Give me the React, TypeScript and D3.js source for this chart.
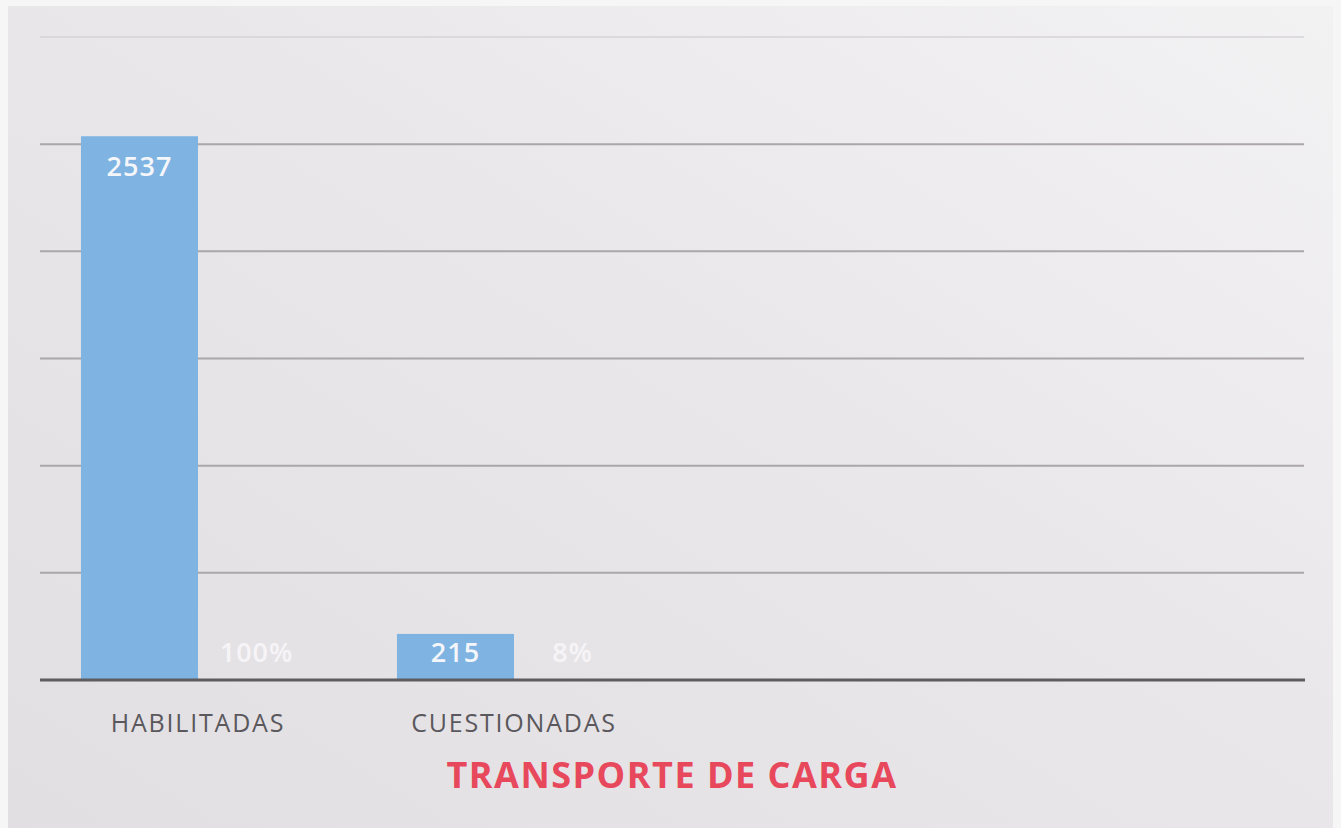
import React from "react";
import * as d3 from "d3";

const categories = ["HABILITADAS", "CUESTIONADAS"];
const slotCount = 4;
const counts = [2537, 215];
const percents = ["100%", "8%"];
const gridTicks = [0, 500, 1000, 1500, 2000, 2500, 3000];
const title = "TRANSPORTE DE CARGA";

const W = 1341;
const H = 828;

export default function App() {
  const left = 40;
  const right = 1304;
  const top = 37;
  const bottom = 680;
  const x = d3.scaleBand<number>().domain(d3.range(slotCount)).range([left, right]).paddingInner(0).paddingOuter(0);
  const inner = d3.scaleBand<number>().domain([0, 1]).range([0, x.bandwidth()]).paddingOuter(0.35).paddingInner(0);
  const y = d3.scaleLinear().domain([0, 3000]).range([bottom, top]);
  const font = "'Open Sans', sans-serif";
  return (
    <svg width={W} height={H} style={{ position: "absolute", left: 0, top: 0 }}>
      <defs>
        <linearGradient id="paper" x1="0" y1="1" x2="1" y2="0">
          <stop offset="0" stopColor="#e2dfe3" />
          <stop offset="0.55" stopColor="#e9e7ea" />
          <stop offset="1" stopColor="#f3f2f3" />
        </linearGradient>
      </defs>
      <rect x={0} y={0} width={W} height={H} fill="#f7f6f7" />
      <rect x={8} y={6} width={1325} height={H - 6} fill="url(#paper)" />
      {gridTicks.filter((t) => t > 0).map((t) => (
        <line key={t} x1={left} x2={right} y1={y(t)} y2={y(t)} stroke={t === 3000 ? "#d6d3d6" : "#aaa6aa"} strokeWidth={t === 3000 ? 1.5 : 2} />
      ))}
      {counts.map((v, i) => (
        <g key={i}>
          <rect x={x(i)! + inner(0)!} y={y(v)} width={inner.bandwidth()} height={y(0) - y(v)} fill="#7fb3e2" />
          <text x={x(i)! + inner(0)! + inner.bandwidth() / 2} y={i === 0 ? y(v) + 40 : bottom - 18} textAnchor="middle" fill="#f4f6fa" fontFamily={font} fontWeight={600} fontSize={27} letterSpacing={1}>{v}</text>
          <text x={x(i)! + inner(1)! + inner.bandwidth() / 2} y={bottom - 18} textAnchor="middle" fill="#f6f4f7" fontFamily={font} fontWeight={600} fontSize={27} letterSpacing={1}>{percents[i]}</text>
          <text x={x(i)! + x.bandwidth() / 2} y={732} textAnchor="middle" fill="#5a585c" fontFamily={font} fontSize={25} letterSpacing={1.8}>{categories[i]}</text>
        </g>
      ))}
      <line x1={left} x2={right + 1} y1={bottom} y2={bottom} stroke="#5f5c60" strokeWidth={3} />
      <text x={672} y={788} textAnchor="middle" fill="#e8485c" fontFamily={font} fontWeight={700} fontSize={36} letterSpacing={1.5}>{title}</text>
    </svg>
  );
}
